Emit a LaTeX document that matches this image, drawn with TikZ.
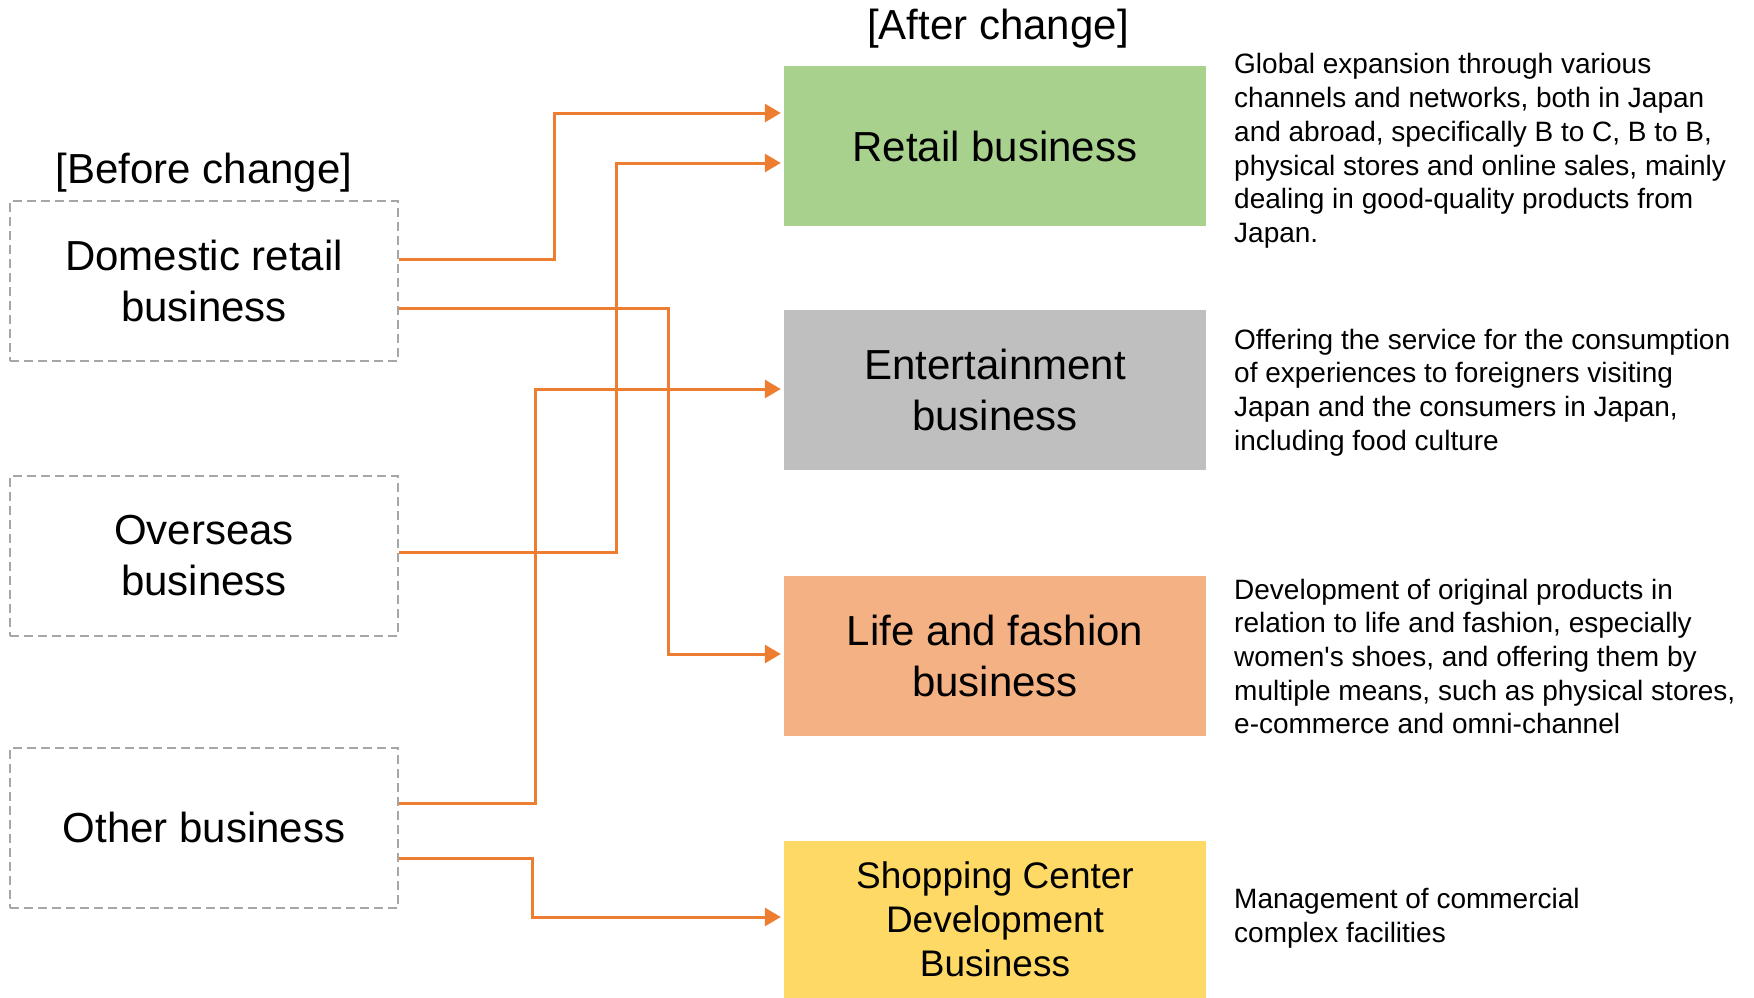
\documentclass[tikz,border=0pt]{standalone}
\usepackage{fontspec}
\setmainfont{Liberation Sans}
\usetikzlibrary{arrows.meta}
\definecolor{cgreen}{HTML}{A9D18E}
\definecolor{cgray}{HTML}{BFBFBF}
\definecolor{csalmon}{HTML}{F4B183}
\definecolor{cyellow}{HTML}{FFD966}
\definecolor{corange}{HTML}{ED7D31}
\definecolor{cdash}{HTML}{A6A6A6}
\tikzset{
  big/.style={font=\fontsize{42}{51}\selectfont, align=center},
  oldbox/.style={big, draw=cdash, line width=2pt, dash pattern=on 9pt off 5pt, minimum width=388pt, minimum height=160pt, inner sep=0pt},
  newbox/.style={big, minimum width=422pt, minimum height=160pt, inner sep=0pt},
  desc/.style={font=\fontsize{28}{33.7}\selectfont, align=left, anchor=west, inner sep=0pt},
  conn/.style={draw=corange, line width=3pt, -{Triangle[length=16pt,width=18pt]}, shorten >=3pt}
}
\begin{document}
\begin{tikzpicture}[x=1pt,y=-1pt]
\useasboundingbox (0,0) rectangle (1754,998);
\node[big] (before) at (204,172.5) {[Before change]};
\node[big] (after) at (998,28.5) {[After change]};
\node[oldbox] (dom) at (204,281) {Domestic retail\\business};
\node[oldbox] (ovs) at (204,555.5) {Overseas\\business};
\node[oldbox] (oth) at (204,827.5) {Other business};
\node[newbox, fill=cgreen] (retail) at (995,146) {Retail business};
\node[newbox, fill=cgray] (ent) at (995,390) {Entertainment\\business};
\node[newbox, fill=csalmon] (life) at (995,656) {Life and fashion\\business};
\node[newbox, fill=cyellow, minimum height=157pt, font=\fontsize{37}{44}\selectfont] (shop) at (995,919.5) {Shopping Center\\Development\\Business};
\node[desc] (d1) at (1234,151) {Global expansion through various\\channels and networks, both in Japan\\and abroad, specifically B to C, B to B,\\physical stores and online sales, mainly\\dealing in good-quality products from\\Japan.};
\node[desc] (d2) at (1234,392.5) {Offering the service for the consumption\\of experiences to foreigners visiting\\Japan and the consumers in Japan,\\including food culture};
\node[desc] (d3) at (1234,656.5) {Development of original products in\\relation to life and fashion, especially\\women\textquotesingle s shoes, and offering them by\\multiple means, such as physical stores,\\e-commerce and omni-channel};
\node[desc] (d4) at (1234,918.5) {Management of commercial\\complex facilities};
\draw[conn] ([yshift=22pt]dom.east) -- ++(155,0) |- ([yshift=33pt]retail.west);
\draw[conn] ([yshift=-27pt]dom.east) -- ++(269,0) |- ([yshift=2pt]life.west);
\draw[conn] ([yshift=3.5pt]ovs.east) -- ++(217,0) |- ([yshift=-17pt]retail.west);
\draw[conn] ([yshift=24.5pt]oth.east) -- ++(136,0) |- ([yshift=1pt]ent.west);
\draw[conn] ([yshift=-30.5pt]oth.east) -- ++(133,0) |- ([yshift=2.5pt]shop.west);
\end{tikzpicture}
\end{document}
